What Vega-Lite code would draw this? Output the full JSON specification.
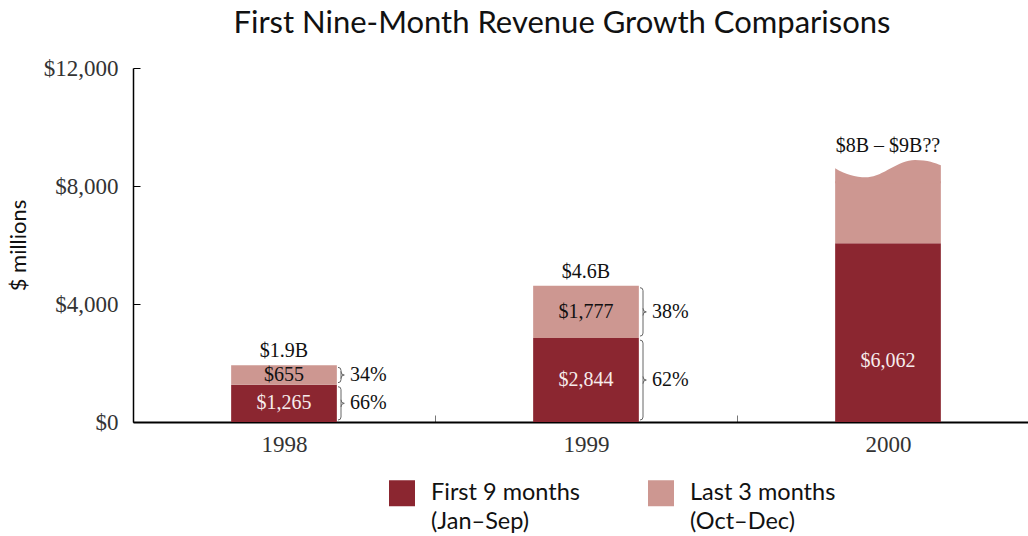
{
  "$schema": "https://vega.github.io/schema/vega-lite/v6.json",
  "width": 906,
  "height": 354,
  "autosize": "none",
  "padding": {"left": 133, "top": 68, "right": -11, "bottom": 114},
  "title": {
    "text": "First Nine-Month Revenue Growth Comparisons",
    "font": "Lato", "fontSize": 31, "fontWeight": "normal", "color": "#111",
    "anchor": "middle", "dx": -24, "offset": 17
  },
  "data": {
    "values": [
      {"year": "1998", "period": "First 9 months (Jan–Sep)", "value": 1265},
      {"year": "1998", "period": "Last 3 months (Oct–Dec)", "value": 655, "note": "$1.9B"},
      {"year": "1999", "period": "First 9 months (Jan–Sep)", "value": 2844},
      {"year": "1999", "period": "Last 3 months (Oct–Dec)", "value": 1777, "note": "$4.6B"},
      {"year": "2000", "period": "First 9 months (Jan–Sep)", "value": 6062},
      {"year": "2000", "period": "Last 3 months (Oct–Dec)", "value": 2100, "note": "$8B – $9B??"}
    ]
  },
  "transform": [
    {"stack": "value", "groupby": ["year"], "sort": [{"field": "period", "order": "ascending"}], "as": ["v0", "v1"]},
    {"joinaggregate": [{"op": "sum", "field": "value", "as": "total"}], "groupby": ["year"]},
    {"calculate": "(datum.v0 + datum.v1) / 2", "as": "mid"},
    {"calculate": "datum.value / datum.total", "as": "share"}
  ],
  "encoding": {
    "x": {
      "field": "year", "type": "nominal", "title": null,
      "scale": {"paddingInner": 0, "paddingOuter": 0},
      "axis": {
        "labelAngle": 0, "domainColor": "#000", "domainWidth": 2,
        "tickColor": "#777", "tickSize": -7, "tickBand": "extent",
        "labelFont": "Liberation Serif", "labelFontSize": 23, "labelColor": "#333",
        "labelPadding": 18, "labelBaseline": "top"
      }
    }
  },
  "layer": [
    {
      "mark": {"type": "bar", "width": {"band": 0.35}},
      "encoding": {
        "y": {
          "field": "v0", "type": "quantitative",
          "scale": {"domain": [0, 12000], "nice": false},
          "axis": {
            "title": "$ millions", "values": [0, 4000, 8000, 12000], "format": "$,.0f", "grid": false,
            "domainColor": "#000", "domainWidth": 1.5, "tickColor": "#000", "tickSize": -7,
            "labelFont": "Liberation Serif", "labelFontSize": 23, "labelColor": "#333", "labelPadding": 22,
            "titleFont": "Lato", "titleFontSize": 22, "titleFontWeight": "normal", "titleColor": "#111",
            "titleX": -115, "titleY": 177, "titleBaseline": "middle", "titleAlign": "center"
          }
        },
        "y2": {"field": "v1"},
        "color": {
          "field": "period", "type": "nominal",
          "scale": {"domain": ["First 9 months (Jan–Sep)", "Last 3 months (Oct–Dec)"], "range": ["#8b2630", "#cd9791"]},
          "legend": {
            "title": null, "orient": "none", "legendX": 256, "legendY": 412, "direction": "horizontal",
            "symbolType": "square", "symbolSize": 676, "symbolStrokeWidth": 0, "symbolOpacity": 1,
            "labelFont": "Lato", "labelFontSize": 23.5, "labelColor": "#111", "labelOffset": 16,
            "columnPadding": 68, "labelLimit": 400, "labelBaseline": "middle",
            "labelExpr": "[slice(datum.label, 0, indexof(datum.label, ' (')), slice(datum.label, indexof(datum.label, ' (') + 1)]"
          }
        }
      }
    },
    {
      "transform": [{"filter": "datum.year == '2000' && datum.period == 'Last 3 months (Oct–Dec)'"}],
      "mark": {
        "type": "point", "filled": true, "color": "#cd9791", "opacity": 1, "strokeWidth": 0, "size": 11172,
        "shape": "M-1,0.04 L-1,-0.246 C-0.8,-0.12 -0.6,-0.07 -0.378,-0.076 C-0.1,-0.09 0.2,-0.40 0.51,-0.40 C0.75,-0.40 0.9,-0.34 1,-0.30 L1,0.04 Z"
      },
      "encoding": {"y": {"field": "v1", "type": "quantitative"}}
    },
    {
      "transform": [{"filter": "datum.year != '2000'"}],
      "mark": {"type": "text", "font": "Liberation Serif", "fontSize": 20, "baseline": "middle", "align": "center"},
      "encoding": {
        "y": {"field": "mid", "type": "quantitative"},
        "text": {"field": "value", "type": "quantitative", "format": "$,.0f"},
        "color": {"condition": {"test": "datum.period == 'First 9 months (Jan–Sep)'", "value": "#f7ecec"}, "value": "#111"}
      }
    },
    {
      "transform": [{"filter": "datum.year == '2000' && datum.period == 'First 9 months (Jan–Sep)'"}],
      "mark": {"type": "text", "font": "Liberation Serif", "fontSize": 20, "baseline": "middle", "align": "center", "yOffset": 28, "color": "#f7ecec"},
      "encoding": {
        "y": {"field": "mid", "type": "quantitative"},
        "text": {"field": "value", "type": "quantitative", "format": "$,.0f"}
      }
    },
    {
      "transform": [{"filter": "datum.note && datum.year != '2000'"}],
      "mark": {"type": "text", "font": "Liberation Serif", "fontSize": 20, "baseline": "alphabetic", "align": "center", "yOffset": -8, "color": "#111"},
      "encoding": {
        "y": {"field": "v1", "type": "quantitative"},
        "text": {"field": "note"}
      }
    },
    {
      "transform": [{"filter": "datum.note && datum.year == '2000'"}],
      "mark": {"type": "text", "font": "Liberation Serif", "fontSize": 20, "baseline": "alphabetic", "align": "center", "yOffset": -29, "color": "#111"},
      "encoding": {
        "y": {"field": "v1", "type": "quantitative"},
        "text": {"field": "note"}
      }
    },
    {
      "transform": [{"filter": "datum.year != '2000'"}],
      "mark": {"type": "rule", "color": "#666", "strokeWidth": 1, "xOffset": 57, "yOffset": -5, "y2Offset": 5},
      "encoding": {
        "y": {"field": "v0", "type": "quantitative"},
        "y2": {"field": "v1"}
      }
    },
    {
      "transform": [{"filter": "datum.year != '2000'"}],
      "mark": {"type": "point", "filled": false, "color": "#666", "opacity": 1, "strokeWidth": 1, "size": 36, "xOffset": 57, "yOffset": 2, "shape": "M-1,0 Q0,0 0,1"},
      "encoding": {"y": {"field": "v1", "type": "quantitative"}}
    },
    {
      "transform": [{"filter": "datum.year != '2000'"}],
      "mark": {"type": "point", "filled": false, "color": "#666", "opacity": 1, "strokeWidth": 1, "size": 36, "xOffset": 57, "yOffset": -2, "shape": "M-1,0 Q0,0 0,-1"},
      "encoding": {"y": {"field": "v0", "type": "quantitative"}}
    },
    {
      "transform": [{"filter": "datum.year != '2000'"}],
      "mark": {"type": "point", "filled": false, "color": "#666", "opacity": 1, "strokeWidth": 1, "size": 36, "xOffset": 57, "shape": "M0,-1.2 Q0,0 1.1,0 Q0,0 0,1.2"},
      "encoding": {"y": {"field": "mid", "type": "quantitative"}}
    },
    {
      "transform": [{"filter": "datum.year != '2000'"}],
      "mark": {"type": "text", "font": "Liberation Serif", "fontSize": 20, "baseline": "middle", "align": "left", "xOffset": 66, "color": "#111"},
      "encoding": {
        "y": {"field": "mid", "type": "quantitative"},
        "text": {"field": "share", "type": "quantitative", "format": ".0%"}
      }
    }
  ],
  "config": {
    "view": {"stroke": null},
    "style": {"guide-label": {"lineHeight": 29}}
  }
}
